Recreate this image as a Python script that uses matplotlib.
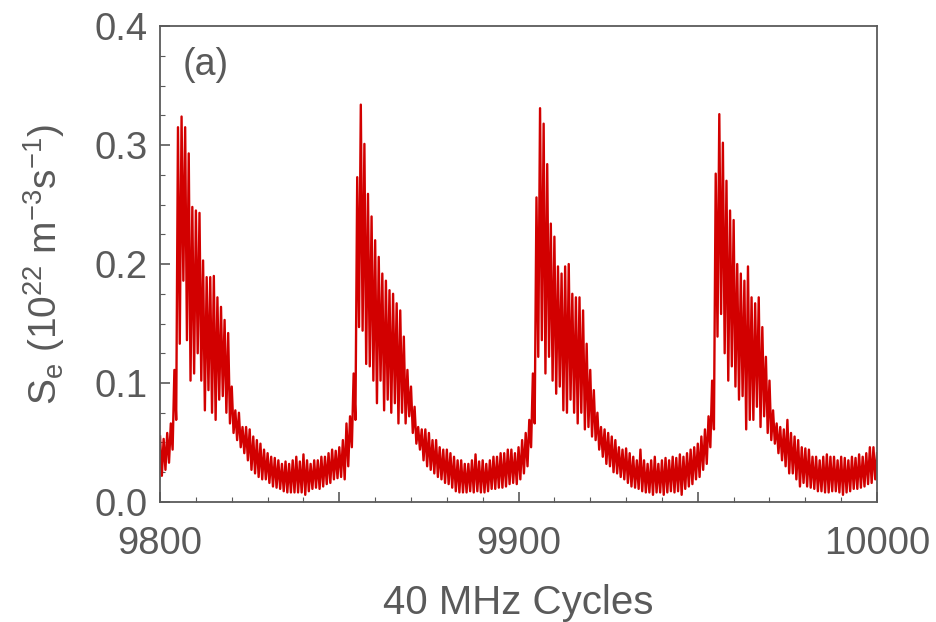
import numpy as np
import matplotlib.pyplot as plt
from matplotlib.ticker import MultipleLocator, FixedLocator

# 40 MHz cycle index (one peak and one trough read per cycle)
cycles = np.arange(9800, 10001)

# upper (peak) values per cycle, 10^22 m^-3 s^-1
s_peak = [
    .055, .053, .058, .066, .111, .315, .324, .315, .293, .248,
    .245, .243, .203, .189, .189, .190, .172, .164, .153, .142,
    .097, .077, .075, .063, .063, .061, .055, .052, .049, .044,
    .041, .038, .037, .035, .032, .034, .032, .035, .038, .034,
    .040, .035, .032, .035, .035, .038, .038, .041, .044, .043,
    .046, .052, .066, .072, .108, .273, .334, .301, .259, .240,
    .220, .206, .192, .186, .178, .175, .167, .161, .139, .111,
    .097, .080, .063, .061, .061, .058, .052, .052, .046, .044,
    .044, .041, .038, .035, .035, .032, .032, .035, .040, .034,
    .035, .032, .035, .038, .038, .041, .041, .044, .044, .041,
    .046, .052, .058, .069, .108, .256, .331, .318, .284, .234,
    .223, .198, .192, .198, .200, .175, .172, .172, .161, .133,
    .111, .094, .075, .063, .061, .058, .055, .052, .046, .044,
    .045, .041, .038, .035, .044, .035, .032, .035, .038, .032,
    .035, .037, .035, .038, .037, .040, .038, .041, .044, .046,
    .049, .055, .061, .072, .102, .276, .326, .302, .270, .245,
    .237, .200, .192, .186, .198, .172, .167, .172, .147, .122,
    .102, .077, .066, .063, .061, .069, .058, .055, .052, .046,
    .045, .044, .038, .038, .035, .038, .040, .038, .038, .035,
    .038, .037, .035, .038, .037, .040, .038, .041, .046, .046,
    .041,
]

# lower (trough) values per cycle
s_trough = [
    .022, .027, .033, .044, .069, .133, .186, .136, .102, .108,
    .125, .102, .077, .094, .075, .069, .086, .089, .075, .066,
    .058, .052, .046, .041, .035, .027, .024, .021, .019, .019,
    .016, .013, .012, .011, .009, .008, .008, .008, .008, .008,
    .006, .009, .011, .012, .011, .013, .015, .016, .019, .020,
    .021, .019, .030, .046, .069, .147, .144, .116, .114, .102,
    .083, .102, .077, .086, .075, .083, .066, .075, .066, .072,
    .058, .049, .044, .035, .030, .027, .024, .021, .019, .016,
    .015, .012, .009, .008, .008, .008, .009, .008, .009, .008,
    .008, .009, .011, .011, .012, .012, .013, .015, .016, .015,
    .019, .024, .030, .046, .066, .122, .136, .108, .122, .102,
    .091, .097, .077, .075, .086, .075, .066, .075, .061, .063,
    .055, .052, .044, .038, .032, .030, .025, .024, .021, .019,
    .016, .013, .012, .011, .009, .008, .008, .006, .008, .008,
    .006, .008, .009, .008, .009, .006, .011, .013, .015, .019,
    .021, .027, .032, .046, .061, .139, .158, .125, .102, .114,
    .097, .086, .089, .061, .069, .069, .080, .063, .072, .058,
    .052, .049, .041, .035, .030, .024, .024, .019, .013, .016,
    .013, .012, .011, .009, .009, .008, .008, .009, .009, .008,
    .006, .008, .009, .011, .011, .012, .013, .015, .016, .019,
    .021,
]

# interleave peaks and troughs into one trace
t = np.empty(2 * len(cycles))
s = np.empty(2 * len(cycles))
t[0::2] = cycles
t[1::2] = cycles + 0.5
s[0::2] = s_peak
s[1::2] = s_trough

plt.rcParams['font.family'] = ['Liberation Sans', 'DejaVu Sans']
plt.rcParams['mathtext.default'] = 'regular'
grey = '#5a5a5a'

fig = plt.figure(figsize=(9.36, 6.22), dpi=100)
ax = fig.add_axes([0.171, 0.193, 0.766, 0.765])

ax.plot(t[:-1], s[:-1], color='#d20000', lw=1.7)

ax.set_xlim(9800, 10000)
ax.set_ylim(0, 0.4)

ax.xaxis.set_major_locator(FixedLocator([9800, 9850, 9900, 9950, 10000]))
ax.set_xticklabels(['9800', '', '9900', '', '10000'])
ax.xaxis.set_minor_locator(MultipleLocator(10))
ax.yaxis.set_major_locator(MultipleLocator(0.1))
ax.yaxis.set_minor_locator(MultipleLocator(0.025))
ax.yaxis.set_major_formatter(plt.FormatStrFormatter('%.1f'))

ax.tick_params(which='both', direction='in', colors=grey, top=False, right=False)
ax.tick_params(which='major', length=7, width=1.2, labelsize=27.5)
ax.tick_params(axis='y', which='major', pad=9)
ax.tick_params(axis='x', which='major', pad=17)
ax.tick_params(which='minor', length=3.5, width=0.8)
for sp in ax.spines.values():
    sp.set_color(grey)
    sp.set_linewidth(1.3)

ax.set_xlabel('40 MHz Cycles', fontsize=29, color=grey, labelpad=16)
ax.set_ylabel('S$_e$ (10$^{22}$ m$^{-3}$s$^{-1}$)', fontsize=28, color=grey, labelpad=20)
ax.text(0.032, 0.918, '(a)', transform=ax.transAxes, fontsize=27, color=grey,
        va='center', ha='left')

fig.savefig('out.png', dpi=100)
